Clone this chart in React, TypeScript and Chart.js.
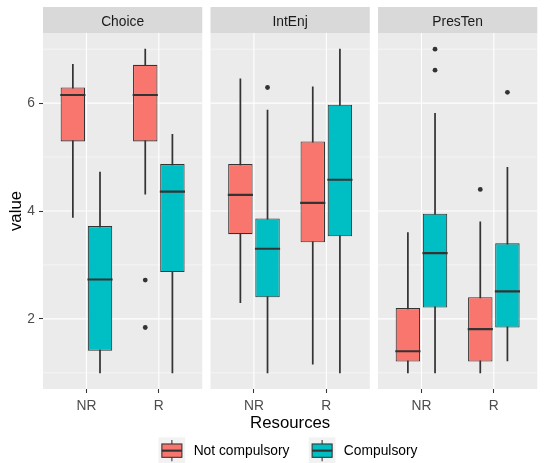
import React, { useEffect, useRef } from "react";
import { Chart, registerables } from "chart.js";

Chart.register(...registerables);

// ---------- data ----------
const facets = ["Choice", "IntEnj", "PresTen"];
const resources = ["NR", "R"];
const groups = ["Not compulsory", "Compulsory"];
const groupColors = ["#F8766D", "#00BFC4"];
const yTickValues = [2, 4, 6];
const yMinorValues = [1, 3, 5, 7];

// cell order: Choice-NR, Choice-R, IntEnj-NR, IntEnj-R, PresTen-NR, PresTen-R
const notCompLower = [3.88, 4.31, 2.3, 1.16, 1.0, 1.0];
const notCompQ1 = [5.29, 5.29, 3.57, 3.42, 1.21, 1.21];
const notCompMedian = [6.15, 6.15, 4.3, 4.15, 1.4, 1.81];
const notCompQ3 = [6.29, 6.71, 4.87, 5.29, 2.2, 2.4];
const notCompUpper = [6.72, 7.0, 6.45, 6.3, 3.6, 3.8];
const notCompOutliers: number[][] = [[], [2.72, 1.84], [], [], [], [4.4]];

const compLower = [1.0, 1.0, 1.0, 1.0, 1.0, 1.22];
const compQ1 = [1.41, 2.87, 2.4, 3.53, 2.21, 1.84];
const compMedian = [2.73, 4.36, 3.3, 4.58, 3.22, 2.51];
const compQ3 = [3.72, 4.87, 3.86, 5.97, 3.95, 3.4];
const compUpper = [4.72, 5.42, 5.87, 7.0, 5.81, 4.81];
const compOutliers: number[][] = [[], [], [6.29], [], [7.0, 6.61], [6.2]];

// ---------- layout constants ----------
const FONT = '"Liberation Sans", Arial, sans-serif';
const SMALL = 13.8;
const TITLE = 16.8;
const X_MIN = 0.4;
const PANEL_UNITS = 2.2;
const PANEL_GAP = 0.114;
const STEP = PANEL_UNITS + PANEL_GAP;
const X_MAX = X_MIN + facets.length * PANEL_UNITS + (facets.length - 1) * PANEL_GAP;
const DODGE = 0.1875;
const STRIP_TOP = 7;
const INK = "#333333";

const stats = [
  { lower: notCompLower, q1: notCompQ1, median: notCompMedian, q3: notCompQ3, upper: notCompUpper, outliers: notCompOutliers },
  { lower: compLower, q1: compQ1, median: compMedian, q3: compQ3, upper: compUpper, outliers: compOutliers },
];

const cells = facets.flatMap((_, p) => resources.map((_, c) => ({ p, c })));
const xFor = (i: number, g: number) => {
  const { p, c } = cells[i];
  return p * STEP + (c + 1) + (g === 0 ? -DODGE : DODGE);
};
const xTickValues = cells.map(({ p, c }) => p * STEP + c + 1);
const xTickLabels = cells.map(({ c }) => resources[c]);

function buildDatasets() {
  const ds: any[] = [];
  stats.forEach((s, g) => {
    ds.push({
      type: "bar",
      label: groups[g] + " whisker",
      data: cells.map((_, i) => ({ x: xFor(i, g), y: [s.lower[i], s.upper[i]] })),
      backgroundColor: INK,
      borderWidth: 0,
      barThickness: 1.07,
      grouped: false,
      order: 3,
    });
    ds.push({
      type: "bar",
      label: groups[g],
      data: cells.map((_, i) => ({ x: xFor(i, g), y: [s.q1[i], s.q3[i]] })),
      backgroundColor: groupColors[g],
      borderColor: INK,
      borderWidth: 1.07,
      borderSkipped: false,
      categoryPercentage: 1,
      barPercentage: 0.9,
      grouped: false,
      order: 2,
    });
    ds.push({
      type: "scatter",
      label: groups[g] + " median",
      data: cells.map((_, i) => ({ x: xFor(i, g), y: s.median[i] })),
      pointStyle: "line",
      pointRadius: 12.58,
      pointBorderColor: INK,
      pointBackgroundColor: INK,
      pointBorderWidth: 2.13,
      order: 1,
    });
    ds.push({
      type: "scatter",
      label: groups[g] + " outliers",
      data: cells.flatMap((_, i) => s.outliers[i].map((v) => ({ x: xFor(i, g), y: v }))),
      pointStyle: "circle",
      pointRadius: 2.4,
      pointBackgroundColor: INK,
      pointBorderColor: INK,
      pointBorderWidth: 0,
      order: 0,
    });
  });
  return ds;
}

function line(ctx: CanvasRenderingContext2D, x1: number, y1: number, x2: number, y2: number) {
  ctx.beginPath();
  ctx.moveTo(x1, y1);
  ctx.lineTo(x2, y2);
  ctx.stroke();
}

const facetPlugin = {
  id: "facetPanels",
  beforeDraw(chart: any) {
    const { ctx, chartArea } = chart;
    const xs = chart.scales.x;
    const ys = chart.scales.y;
    ctx.save();
    ctx.fillStyle = "#FFFFFF";
    ctx.fillRect(0, 0, chart.width, chart.height);
    facets.forEach((name, p) => {
      const left = xs.getPixelForValue(X_MIN + p * STEP);
      const right = xs.getPixelForValue(X_MIN + PANEL_UNITS + p * STEP);
      ctx.fillStyle = "#EBEBEB";
      ctx.fillRect(left, chartArea.top, right - left, chartArea.bottom - chartArea.top);
      ctx.strokeStyle = "#FFFFFF";
      ctx.lineWidth = 0.53;
      yMinorValues.forEach((v) => {
        const py = ys.getPixelForValue(v);
        line(ctx, left, py, right, py);
      });
      ctx.lineWidth = 1.07;
      yTickValues.forEach((v) => {
        const py = ys.getPixelForValue(v);
        line(ctx, left, py, right, py);
      });
      resources.forEach((_, c) => {
        const px = xs.getPixelForValue(p * STEP + c + 1);
        line(ctx, px, chartArea.top, px, chartArea.bottom);
      });
      ctx.fillStyle = "#D9D9D9";
      ctx.fillRect(left, STRIP_TOP, right - left, chartArea.top - STRIP_TOP);
      ctx.fillStyle = "#1A1A1A";
      ctx.font = `${SMALL}px ${FONT}`;
      ctx.textAlign = "center";
      ctx.textBaseline = "middle";
      ctx.fillText(name, (left + right) / 2, (STRIP_TOP + chartArea.top) / 2 + 1.8);
    });
    ctx.restore();
  },
};

function drawKey(ctx: CanvasRenderingContext2D, x: number, y: number, s: number, color: string) {
  ctx.fillStyle = "#F2F2F2";
  ctx.fillRect(x, y, s, s);
  ctx.strokeStyle = INK;
  ctx.lineWidth = 1.07;
  line(ctx, x + s / 2, y + 0.1 * s, x + s / 2, y + 0.25 * s);
  line(ctx, x + s / 2, y + 0.75 * s, x + s / 2, y + 0.9 * s);
  ctx.fillStyle = color;
  ctx.fillRect(x + 0.125 * s, y + 0.25 * s, 0.75 * s, 0.5 * s);
  ctx.strokeRect(x + 0.125 * s, y + 0.25 * s, 0.75 * s, 0.5 * s);
  ctx.lineWidth = 2.13;
  line(ctx, x + 0.125 * s, y + 0.5 * s, x + 0.875 * s, y + 0.5 * s);
}

const legendPlugin = {
  id: "ggLegend",
  afterDraw(chart: any) {
    const ctx: CanvasRenderingContext2D = chart.ctx;
    ctx.save();
    ctx.font = `${SMALL}px ${FONT}`;
    const key = 26.7;
    const gapText = 8.4;
    const gapItem = 19.3;
    const widths = groups.map((g) => ctx.measureText(g).width);
    const total =
      groups.length * (key + gapText) + widths.reduce((a, b) => a + b, 0) + gapItem * (groups.length - 1);
    let x = 288 - total / 2;
    const top = 437.3;
    groups.forEach((g, i) => {
      drawKey(ctx, x, top, key, groupColors[i]);
      ctx.fillStyle = "#000000";
      ctx.font = `${SMALL}px ${FONT}`;
      ctx.textAlign = "left";
      ctx.textBaseline = "middle";
      ctx.fillText(g, x + key + gapText, 451.5);
      x += key + gapText + widths[i] + gapItem;
    });
    ctx.restore();
  },
};

export default function App() {
  const ref = useRef<HTMLCanvasElement | null>(null);
  useEffect(() => {
    if (!ref.current) return;
    const chart = new Chart(ref.current, {
      type: "bar",
      data: { datasets: buildDatasets() },
      options: {
        animation: false,
        responsive: false,
        devicePixelRatio: 1,
        events: [],
        layout: { padding: { top: 33, left: 0, right: 0, bottom: 30 } },
        plugins: { legend: { display: false }, tooltip: { enabled: false } },
        scales: {
          x: {
            type: "linear",
            min: X_MIN,
            max: X_MAX,
            offset: false,
            afterBuildTicks: (s: any) => {
              s.ticks = xTickValues.map((v) => ({ value: v }));
            },
            afterFit: (s: any) => {
              s.height = 44;
            },
            ticks: {
              autoSkip: false,
              maxRotation: 0,
              padding: 5,
              color: "#4D4D4D",
              font: { family: FONT, size: SMALL },
              callback: (_v: any, i: number) => xTickLabels[i],
            },
            grid: { offset: false, drawOnChartArea: false, drawTicks: true, tickLength: 4, tickColor: INK, tickWidth: 1.07 },
            border: { display: false },
            title: {
              display: true,
              text: "Resources",
              color: "#000000",
              font: { family: FONT, size: TITLE },
              padding: { top: 0, bottom: 0 },
            },
          },
          y: {
            type: "linear",
            min: 0.7,
            max: 7.3,
            afterBuildTicks: (s: any) => {
              s.ticks = yTickValues.map((v) => ({ value: v }));
            },
            afterFit: (s: any) => {
              s.width = 43;
            },
            ticks: {
              padding: 4,
              color: "#4D4D4D",
              font: { family: FONT, size: SMALL },
              callback: (v: any) => String(v),
            },
            grid: { drawOnChartArea: false, drawTicks: true, tickLength: 4, tickColor: INK, tickWidth: 1.07 },
            border: { display: false },
            title: {
              display: true,
              text: "value",
              color: "#000000",
              font: { family: FONT, size: TITLE },
              padding: { top: 5.8, bottom: 0 },
            },
          },
        },
      } as any,
      plugins: [facetPlugin, legendPlugin],
    } as any);
    return () => chart.destroy();
  }, []);
  return (
    <div style={{ position: "absolute", left: 0, top: 0, width: 547, height: 463, overflow: "hidden", background: "#fff" }}>
      <canvas ref={ref} width={552} height={463} style={{ display: "block", width: 552, height: 463 }} />
    </div>
  );
}
